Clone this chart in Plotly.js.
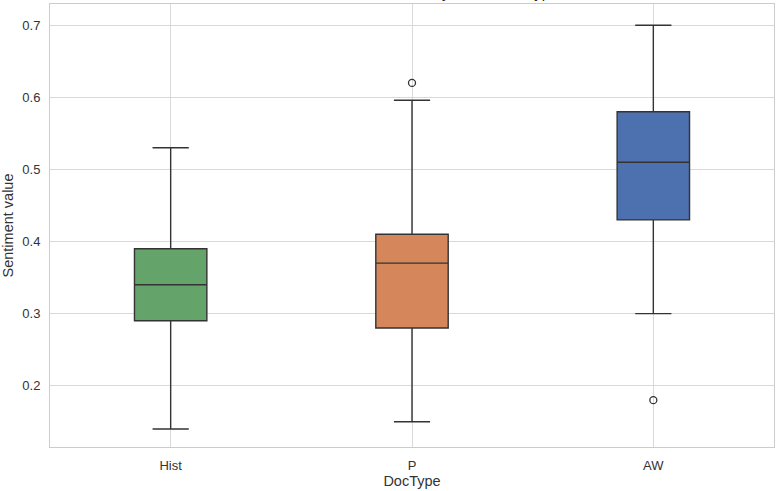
<!DOCTYPE html>
<html>
<head>
<meta charset="utf-8">
<script src="https://cdn.plot.ly/plotly-3.0.1.min.js"></script>
<style>html,body{margin:0;padding:0;background:#fff;}#chart{width:776px;height:491px;}</style>
</head>
<body>
<div id="chart"></div>
<script>
// Data
const categories = ["Hist", "P", "AW"];
const q1Values = [0.29, 0.28, 0.43];
const medianValues = [0.34, 0.37, 0.51];
const q3Values = [0.39, 0.41, 0.58];
const lowerFence = [0.14, 0.15, 0.30];
const upperFence = [0.53, 0.596, 0.70];
const outlierCats = ["P", "AW"];
const outlierValues = [0.62, 0.18];
const boxColors = ["#64a46b", "#d5865a", "#4d70ae"];

const lineColor = "#333333";
const traces = categories.map((c, i) => ({
  type: "box",
  x: [c],
  q1: [q1Values[i]],
  median: [medianValues[i]],
  q3: [q3Values[i]],
  lowerfence: [lowerFence[i]],
  upperfence: [upperFence[i]],
  fillcolor: boxColors[i],
  line: {color: lineColor, width: 1.4},
  width: 0.3,
  whiskerwidth: 0.5,
  boxpoints: false,
  hoverinfo: "skip"
}));
traces.push({
  type: "scatter",
  mode: "markers",
  x: outlierCats,
  y: outlierValues,
  marker: {symbol: "circle-open", size: 7, color: lineColor, line: {width: 1.3, color: lineColor}},
  hoverinfo: "skip"
});

const font = "Liberation Sans, Arial, sans-serif";
const layout = {
  width: 776, height: 491,
  margin: {l: 50, r: 2, t: 4, b: 44},
  paper_bgcolor: "#ffffff", plot_bgcolor: "#ffffff",
  showlegend: false,
  boxmode: "overlay",
  font: {family: font, size: 13, color: "#333333"},
  xaxis: {
    type: "category",
    categoryorder: "array", categoryarray: categories,
    range: [-0.5, 2.5],
    showgrid: true, gridcolor: "#d9d9d9", gridwidth: 1,
    showline: true, mirror: true, linecolor: "#cccccc", linewidth: 1,
    zeroline: false, ticks: "", ticklabelstandoff: 6,
    tickfont: {size: 13, color: "#333333"},
    title: {text: "DocType", font: {size: 14.5, color: "#333333"}, standoff: 4}
  },
  yaxis: {
    range: [0.115, 0.7294],
    tick0: 0, dtick: 0.1, tickformat: ".1f",
    showgrid: true, gridcolor: "#d9d9d9", gridwidth: 1,
    showline: true, mirror: true, linecolor: "#cccccc", linewidth: 1,
    zeroline: false, ticks: "", ticklabelstandoff: 6,
    tickfont: {size: 13, color: "#333333"},
    title: {text: "Sentiment value", font: {size: 14.5, color: "#333333"}, standoff: 6}
  },
  annotations: [{
    text: "Distribution of Sentiment by Document Type",
    xref: "paper", yref: "paper", x: 0.5, y: 1, xanchor: "center", yanchor: "bottom",
    yshift: 1, showarrow: false, font: {size: 15, color: "#262626", family: font}
  }]
};
Plotly.newPlot("chart", traces, layout, {staticPlot: true, displayModeBar: false});
</script>
</body>
</html>
